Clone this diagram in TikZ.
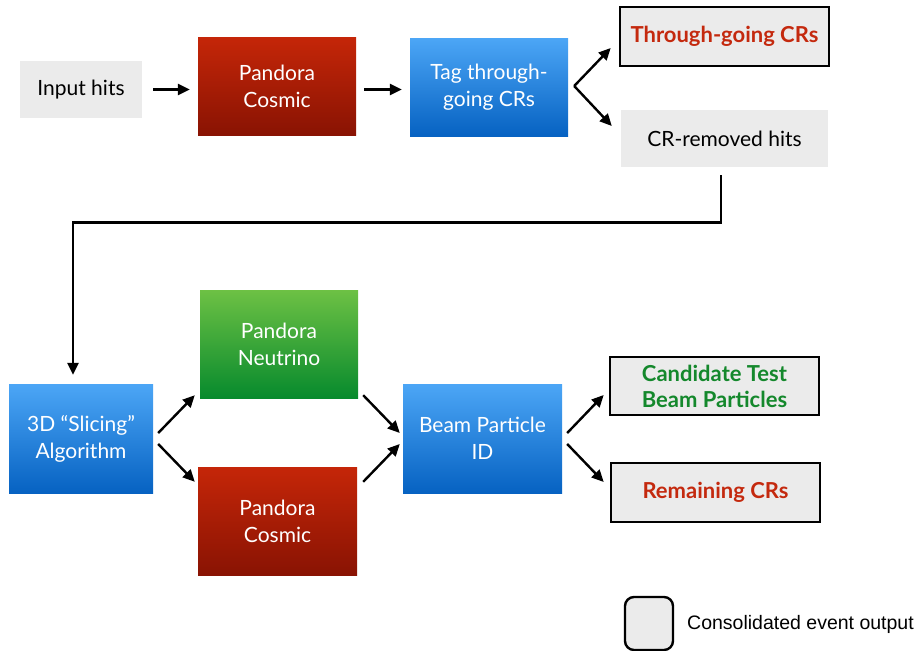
\documentclass[tikz,border=0pt]{standalone}
\usepackage{fontspec}
\setmainfont{Lato}
\newfontfamily\legendfont{Liberation Sans}
\usepackage{tikz}
\usetikzlibrary{arrows.meta,calc,positioning}
\definecolor{redtop}{HTML}{C52608}
\definecolor{redbot}{HTML}{891303}
\definecolor{bluetop}{HTML}{4CA6F6}
\definecolor{bluebot}{HTML}{0662C2}
\definecolor{greentop}{HTML}{6DC144}
\definecolor{greenbot}{HTML}{078A2D}
\definecolor{hitgray}{HTML}{EBEBEB}
\definecolor{crred}{HTML}{C4290E}
\definecolor{beamgreen}{HTML}{14882C}
\tikzset{
  flowbox/.style={align=center, inner sep=0pt, text=white, font=\fontsize{21}{27}\selectfont},
  redfill/.style={top color=redtop, bottom color=redbot},
  bluefill/.style={top color=bluetop, bottom color=bluebot},
  greenfill/.style={top color=greentop, bottom color=greenbot},
  hitbox/.style={fill=hitgray, align=center, inner sep=0pt, font=\fontsize{21}{27}\selectfont},
  outbox/.style={draw=black, line width=2.6pt, fill=hitgray, align=center, inner sep=0pt, font=\bfseries\fontsize{22}{26}\selectfont},
  flowarrow/.style={-{Triangle[length=12pt,width=11pt]}, line width=2.4pt, draw=black}
}

\begin{document}
\begin{tikzpicture}[x=1pt,y=-1pt]
  \useasboundingbox (0,0) rectangle (919,651);

  % upper chain
  \node[hitbox, minimum width=122pt, minimum height=57pt] (inhits) at (81,89.5) {Input hits};
  \node[flowbox, redfill, minimum width=158pt, minimum height=98pt] (cosmicA) at (277,86) {Pandora\\Cosmic};
  \node[flowbox, bluefill, minimum width=158pt, minimum height=98pt] (tagcr) at (489,87) {Tag through-\\going CRs};
  \node[outbox, text=crred, minimum width=209pt, minimum height=59pt] (thrucr) at (724.5,36.5) {Through-going CRs};
  \node[hitbox, minimum width=207pt, minimum height=57pt] (crhits) at (724.5,138.5) {CR-removed hits};

  % lower chain
  \node[flowbox, bluefill, minimum width=144pt, minimum height=109pt] (slicing) at (81,438.5) {3D “Slicing”\\Algorithm};
  \node[flowbox, greenfill, minimum width=158pt, minimum height=108pt] (neutrino) at (279,344) {Pandora\\Neutrino};
  \node[flowbox, redfill, minimum width=159pt, minimum height=108pt] (cosmicB) at (277.5,521) {Pandora\\Cosmic};
  \node[flowbox, bluefill, minimum width=159pt, minimum height=109pt] (beamid) at (482.5,438.5) {Beam Particle\\ID};
  \node[outbox, text=beamgreen, minimum width=209pt, minimum height=58pt] (candtb) at (714.5,386) {Candidate Test\\Beam Particles};
  \node[outbox, text=crred, minimum width=209pt, minimum height=59pt] (remcr) at (715.5,492.5) {Remaining CRs};

  % legend
  \node[draw=black, line width=2.4pt, fill=hitgray, rounded corners=9pt, minimum width=48pt, minimum height=53pt] (legbox) at (649,623.5) {};
  \node[anchor=west, inner sep=0pt, font=\legendfont\fontsize{19.5}{22}\selectfont] (legtext) at (687,624) {Consolidated event output};

  % arrows, upper chain
  \draw[flowarrow, shorten <=11pt, shorten >=8pt] (inhits.east) -- (inhits.east -| cosmicA.west);
  \draw[flowarrow, shorten <=8pt, shorten >=8pt] (inhits.east -| cosmicA.east) -- (inhits.east -| tagcr.west);
  \draw[flowarrow] ([xshift=6pt,yshift=1pt]tagcr.east) -- ([xshift=-8pt,yshift=-11.5pt]thrucr.west);
  \draw[flowarrow] ([xshift=6pt,yshift=1pt]tagcr.east) -- ([xshift=-9pt,yshift=12.5pt]crhits.west);

  % long return connector
  \coordinate (bend) at (73,222.5);
  \draw[flowarrow] ([xshift=-3.5pt,yshift=-8pt]crhits.south) |- (bend) -- ([yshift=9pt]slicing.north -| bend);

  % arrows, lower chain
  \draw[flowarrow] ([xshift=5pt,yshift=5.5pt]slicing.east) -- ([xshift=-5pt,yshift=3pt]neutrino.south west);
  \draw[flowarrow] ([xshift=5pt,yshift=-5.5pt]slicing.east) -- ([xshift=-3pt,yshift=-15pt]cosmicB.north west);
  \draw[flowarrow] ([xshift=5pt,yshift=3pt]neutrino.south east) -- ([xshift=-3pt,yshift=5.5pt]beamid.west);
  \draw[flowarrow] ([xshift=6pt,yshift=-15pt]cosmicB.north east) -- ([xshift=-3pt,yshift=-5.5pt]beamid.west);
  \draw[flowarrow] ([xshift=5pt,yshift=5.5pt]beamid.east) -- ([xshift=-5pt,yshift=-9pt]candtb.west);
  \draw[flowarrow] ([xshift=5pt,yshift=-5.5pt]beamid.east) -- ([xshift=-6pt,yshift=10.5pt]remcr.west);

\end{tikzpicture}
\end{document}
